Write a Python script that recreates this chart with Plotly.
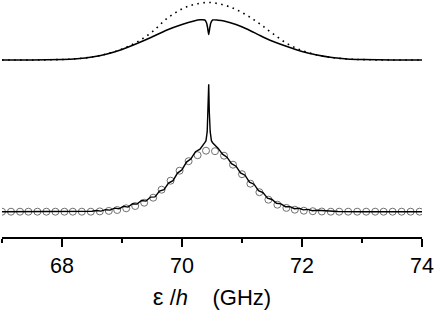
import plotly.graph_objects as go

# ---- data (heights in arbitrary units) ----
TOP_X = [67.0, 67.5, 68.0, 68.25, 68.5, 68.75, 69.0, 69.25, 69.5, 69.75, 70.0, 70.2, 70.3, 70.38, 70.41,
         70.43, 70.445, 70.46, 70.48, 70.51, 70.6, 70.7, 70.9, 71.1, 71.3, 71.5, 71.75, 72.0, 72.25, 72.5,
         72.75, 73.0, 73.5, 74.0]
TOP_SOLID = [0, 0, 0.5, 1.3, 3, 6, 10.5, 16.5, 23, 30, 35.5, 39, 40.2, 40, 37, 31, 25.5, 31, 37, 40,
             39.8, 39, 35.5, 30.5, 24.5, 19, 13.5, 8.5, 5, 2.5, 1, 0.4, 0, 0]

DOT_X = [67.0, 67.5, 68.0, 68.25, 68.5, 68.75, 69.0, 69.25, 69.5, 69.75, 70.0, 70.2, 70.45, 70.7, 70.9,
         71.1, 71.3, 71.5, 71.75, 72.0, 72.25, 72.5, 72.75, 73.0, 73.5, 74.0]
DOT_Y = [0, 0, 0.5, 1.3, 3, 6.2, 11, 18, 28, 41.5, 51, 55.5, 57.5, 55, 50.5, 44, 36, 27, 16.5, 9.5,
         5, 2.5, 1, 0.4, 0, 0]

BOT_X = [67.0, 67.5, 68.0, 68.3, 68.5, 68.575, 68.65, 68.725, 68.8, 68.875, 68.95, 69.025, 69.1, 69.175,
         69.25, 69.325, 69.4, 69.475, 69.55, 69.625, 69.7, 69.775, 69.85, 69.925, 70.0, 70.075, 70.15,
         70.225, 70.3, 70.38, 70.4, 70.42, 70.435, 70.445, 70.455, 70.47, 70.49, 70.51, 70.6, 70.675,
         70.75, 70.825, 70.9, 70.975, 71.05, 71.125, 71.2, 71.275, 71.35, 71.425, 71.5, 71.575, 71.65,
         71.725, 71.8, 71.875, 71.95, 72.025, 72.1, 72.175, 72.25, 72.4, 72.6, 73.0, 73.5, 74.0]
BOT_Y = [0, 0, 0, 0.2, 0.5, 1.2, 0.6, 2.0, 1.6, 3.6, 2.9, 5.4, 4.6, 8.0,
         7.6, 11.2, 10.6, 14.6, 14.8, 20.6, 22.0, 28.6, 31.0, 38.6, 42.0, 49.6, 53.0,
         60.0, 62.5, 69.0, 71, 80, 100, 127.4, 100, 80, 71, 69, 63.5, 57.5,
         54.5, 48, 45.5, 38.8, 36.5, 29.5, 27.5, 21, 19.2, 13.6, 12.2, 8.4, 7.8,
         5.0, 5.0, 3.0, 3.4, 1.8, 2.3, 1.0, 1.4, 0.6, 0.2, 0, 0, 0]

CIRC_X = [67.00, 67.15, 67.30, 67.44, 67.59, 67.74, 67.89, 68.04, 68.18, 68.33, 68.48, 68.63, 68.78,
          68.92, 69.07, 69.22, 69.37, 69.52, 69.66, 69.81, 69.96, 70.11, 70.26, 70.40, 70.55, 70.70,
          70.85, 71.00, 71.14, 71.29, 71.44, 71.59, 71.74, 71.88, 72.03, 72.18, 72.33, 72.48, 72.62,
          72.77, 72.92, 73.07, 73.22, 73.36, 73.51, 73.66, 73.81, 73.96]
CIRC_Y = [0, 0, 0, 0, 0, 0, 0, 0, 0, 0, 0, 0.3, 0.8,
          1.7, 3.4, 5.7, 9, 14, 22, 31, 41, 50.5, 56.5, 61, 60.5, 56,
          47, 37.5, 28, 19.5, 12, 7, 3.8, 2, 1, 0.5, 0.2, 0, 0,
          0, 0, 0, 0, 0, 0, 0, 0, 0]

X_TICKS = [68, 70, 72, 74]
X_TITLE = "<span style='font-size:24px'>ε</span> /<i>h</i>    (GHz)"

TOP_OFFSET = 151.7  # vertical offset of the upper spectrum

FONT = "Liberation Sans, Arial, sans-serif"

fig = go.Figure()
fig.add_trace(go.Scatter(x=DOT_X, y=[v + TOP_OFFSET for v in DOT_Y], mode="lines",
                         line=dict(color="black", width=1.6, dash="1.6px,4.4px", shape="spline"),
                         showlegend=False))
fig.add_trace(go.Scatter(x=TOP_X, y=[v + TOP_OFFSET for v in TOP_SOLID], mode="lines",
                         line=dict(color="black", width=1.5, shape="spline", smoothing=0.6),
                         showlegend=False))
fig.add_trace(go.Scatter(x=CIRC_X, y=CIRC_Y, mode="markers",
                         marker=dict(symbol="circle-open", size=7, color="#707070",
                                     line=dict(width=1, color="#707070")),
                         showlegend=False))
fig.add_trace(go.Scatter(x=BOT_X, y=BOT_Y, mode="lines",
                         line=dict(color="black", width=1.4),
                         showlegend=False))

fig.update_layout(
    width=436, height=319,
    margin=dict(l=2, r=14, t=0, b=82),
    paper_bgcolor="white", plot_bgcolor="white",
    font=dict(family=FONT, color="black"),
    xaxis=dict(range=[67, 74], tickvals=X_TICKS, ticks="outside", ticklen=8, tickwidth=1.5,
               tickcolor="black", showline=True, linecolor="black", linewidth=1.5,
               showgrid=False, zeroline=False, tickfont=dict(size=21.5, family=FONT),
               minor=dict(ticks="outside", ticklen=4, tickwidth=1.5, tickcolor="black",
                          tickvals=[67, 69, 71, 73], showgrid=False),
               title=dict(text=X_TITLE, font=dict(size=22, family=FONT), standoff=13)),
    yaxis=dict(visible=False, range=[-25.3, 211.7]),
)

fig.write_html("out.html", config={"displayModeBar": False},
               post_script="document.body.style.margin='0';")
